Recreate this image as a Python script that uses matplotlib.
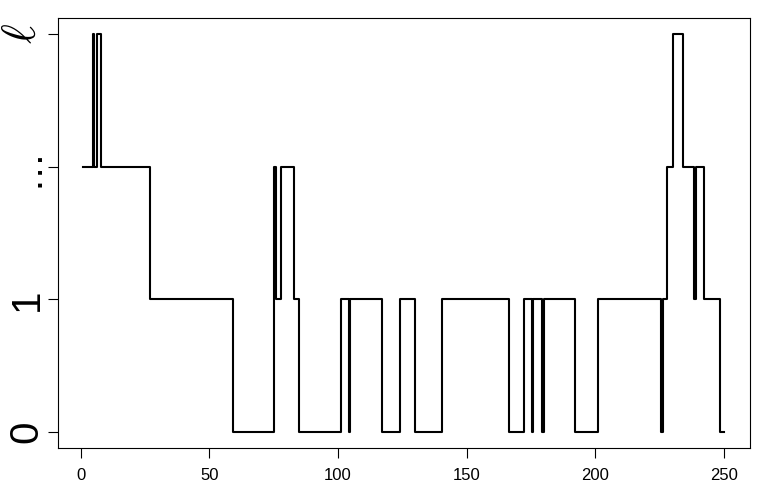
import matplotlib
matplotlib.use("Agg")
import matplotlib.pyplot as plt

# change points of the step trace: x where a new level starts, and that level
step_x = [1, 4.7, 5.2, 6.4, 7.8, 27, 59, 75.2, 75.9, 77.8, 82.9, 85.0,
          101.1, 104.1, 104.8, 117.0, 124.1, 129.9, 140.4, 166.3, 172.1,
          175.2, 175.8, 179.2, 180.0, 192.2, 201.1, 225.5, 226.3, 227.8,
          230.1, 234.1, 238.2, 239.1, 242.1, 248.2, 250]
step_level = [2, 3, 2, 3, 2, 1, 0, 2, 1, 2, 1, 0,
              1, 0, 1, 0, 1, 0, 1, 0, 1,
              0, 1, 0, 1, 0, 1, 0, 1, 2,
              3, 2, 1, 2, 1, 0, 0]

x_ticks = [0, 50, 100, 150, 200, 250]
y_ticks = [0, 1, 2, 3]
y_labels = ["0", "1", "\u2026", r"$\ell$"]

plt.rcParams['font.family'] = ['Liberation Sans', 'DejaVu Sans']
plt.rcParams['mathtext.fontset'] = 'cm'

fig = plt.figure(figsize=(7.69, 4.86), dpi=100)
ax = fig.add_axes([0.075, 0.078, 0.900, 0.885])

ax.step(step_x, step_level, where='post', color='black', lw=1.5)

# R style 4% padding
xr = max(step_x) - min(step_x)
ax.set_xlim(min(step_x) - 0.04 * xr, max(step_x) + 0.04 * xr)
ax.set_ylim(-0.12, 3.12)

ax.set_xticks(x_ticks)
ax.set_xticklabels([str(t) for t in x_ticks])
ax.set_yticks(y_ticks)
ax.set_yticklabels(y_labels)

ax.tick_params(axis='x', direction='out', length=7, width=0.8, labelsize=12, pad=7)
ax.tick_params(axis='y', direction='out', length=7, width=0.8, labelsize=29,
               pad=1.5, labelrotation=90)
for lab in ax.get_yticklabels():
    lab.set_verticalalignment('center')
# the ell glyph is drawn a bit larger in the original
ax.get_yticklabels()[-1].set_fontsize(34)

for s in ax.spines.values():
    s.set_linewidth(0.8)

fig.savefig("out.png", dpi=100)
